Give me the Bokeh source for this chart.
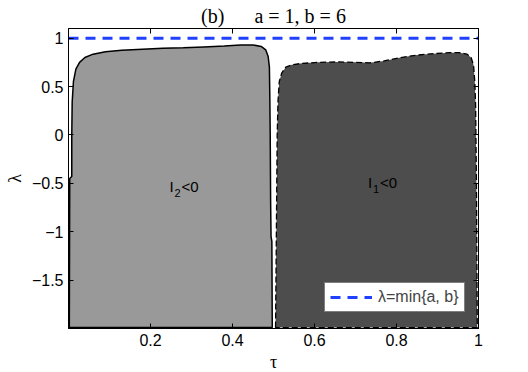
from bokeh.plotting import figure
from bokeh.models import (Range1d, FixedTicker, LinearAxis, Label, Legend, LegendItem)
from bokeh.embed import file_html
from bokeh.resources import INLINE

# ---- data ----
a_val, b_val = 1, 6
lam_min = min(a_val, b_val)

tau_range = [0.0, 1.0]
lam_range = [-2.0, 1.1]

x_ticks = [0.2, 0.4, 0.6, 0.8, 1.0]
x_tick_labels = ["0.2", "0.4", "0.6", "0.8", "1"]
y_ticks = [-1.5, -1.0, -0.5, 0.0, 0.5, 1.0]
y_tick_labels = ["\u22121.5", "\u22121", "\u22120.5", "0", "0.5", "1"]

# region I2 < 0 (light gray, solid outline)
light_tau = [0.002, 0.003, 0.008, 0.008, 0.009, 0.012, 0.018, 0.027, 0.04, 0.06, 0.09,
             0.13, 0.18, 0.23, 0.28, 0.33, 0.38, 0.42, 0.45, 0.47, 0.481, 0.487, 0.49,
             0.491, 0.492, 0.493, 0.494, 0.496, 0.497]
light_lam = [-1.99, -0.45, -0.43, 0.0, 0.34, 0.55, 0.68, 0.75, 0.80, 0.835, 0.86,
             0.875, 0.885, 0.895, 0.90, 0.91, 0.92, 0.93, 0.93, 0.915, 0.88, 0.81, 0.70,
             0.40, 0.0, -0.7, -1.05, -1.1, -1.99]

# region I1 < 0 (dark gray, dashed outline)
dark_tau = [0.505, 0.507, 0.509, 0.511, 0.514, 0.52, 0.53, 0.545, 0.57, 0.61, 0.66,
            0.70, 0.735, 0.77, 0.81, 0.85, 0.89, 0.93, 0.955, 0.972, 0.982, 0.988,
            0.991, 0.993, 0.995, 0.996, 0.997]
dark_lam = [-1.99, -1.0, 0.0, 0.35, 0.55, 0.64, 0.70, 0.725, 0.74, 0.75, 0.755,
            0.75, 0.745, 0.765, 0.80, 0.825, 0.84, 0.85, 0.85, 0.835, 0.80, 0.72,
            0.55, 0.30, -0.5, -1.3, -1.99]

title_text = "(b)" + "\u00a0" * 6 + "a = 1, b = 6"

# ---- figure ----
p = figure(frame_width=410, frame_height=300,
           x_range=Range1d(*tau_range), y_range=Range1d(*lam_range),
           output_backend="svg", toolbar_location=None,
           min_border_left=68, min_border_right=42, min_border_top=27,
           min_border_bottom=40, background_fill_color="white",
           border_fill_color="white", outline_line_color="black")
p.grid.visible = False

SERIF = "Liberation Serif"
TICK_FONT = "Liberation Sans"

p.title.text = title_text
p.title.align = "center"
p.title.text_font = SERIF
p.title.text_font_size = "20px"
p.title.text_font_style = "normal"
p.title.text_color = "black"
p.title.standoff = 4
p.title.offset = 0

light = p.patch(light_tau, light_lam, fill_color="#999999", line_color="black",
                line_width=1.5)
dark = p.patch(dark_tau, dark_lam, fill_color="#4d4d4d", line_color="black",
               line_width=1.3, line_dash="6 3")
blue = p.line(tau_range, [lam_min, lam_min], line_color="#2040ff", line_width=3,
              line_dash="10 7")


def style_axis(ax, ticks, labels, show_labels, standoff):
    ax.ticker = FixedTicker(ticks=ticks)
    if show_labels:
        ax.major_label_overrides = {t: l for t, l in zip(ticks, labels)}
    else:
        ax.major_label_overrides = {t: "" for t in ticks}
    ax.major_tick_in = 5
    ax.major_tick_out = 0
    ax.minor_tick_in = 0
    ax.minor_tick_out = 0
    ax.axis_line_color = "black"
    ax.major_tick_line_color = "black"
    ax.major_label_text_font = TICK_FONT
    ax.major_label_text_font_size = "16px"
    ax.major_label_text_color = "black"
    ax.major_label_standoff = standoff
    ax.axis_label_text_font = SERIF
    ax.axis_label_text_font_size = "18px"
    ax.axis_label_text_font_style = "normal"
    ax.axis_label_text_color = "black"


style_axis(p.xaxis[0], x_ticks, x_tick_labels, True, 5)
style_axis(p.yaxis[0], y_ticks, y_tick_labels, True, 5)
p.xaxis[0].axis_label = "\u03c4"
p.xaxis[0].axis_label_standoff = 3
p.yaxis[0].axis_label = "\u03bb"
p.yaxis[0].axis_label_standoff = 4

top_ax = LinearAxis()
right_ax = LinearAxis()
style_axis(top_ax, x_ticks, x_tick_labels, False, 0)
style_axis(right_ax, y_ticks, y_tick_labels, False, 0)
p.add_layout(top_ax, "above")
p.add_layout(right_ax, "right")


def px_to_tau(px):
    return (px - 68.3) / 409.0


def py_to_lam(py):
    return (133.5 - py) / 97.4


def add_text(text, px, py, size, font, style="normal", align="left",
             baseline="middle"):
    p.add_layout(Label(x=px_to_tau(px), y=py_to_lam(py), text=text,
                       text_font=font, text_font_size=size,
                       text_font_style=style, text_align=align,
                       text_baseline=baseline, text_color="black"))


# region labels
add_text("I", 169, 185, "15px", TICK_FONT)
add_text("2", 174, 192, "11px", TICK_FONT)
add_text("<0", 181, 185, "15px", TICK_FONT)

add_text("I", 367, 181, "15px", TICK_FONT)
add_text("1", 372, 188, "11px", TICK_FONT)
add_text("<0", 379, 181, "15px", TICK_FONT)

legend = Legend(items=[LegendItem(label="\u03bb=min{a, b}", renderers=[blue])],
                location=(256, 16), padding=5, margin=0, glyph_width=42,
                glyph_height=18, label_standoff=6, label_height=18,
                label_text_font=TICK_FONT, label_text_font_size="16px",
                border_line_color="black", border_line_width=1,
                background_fill_color="white", background_fill_alpha=1.0)
p.add_layout(legend, "center")

open("out.html", "w").write(file_html(p, INLINE))
